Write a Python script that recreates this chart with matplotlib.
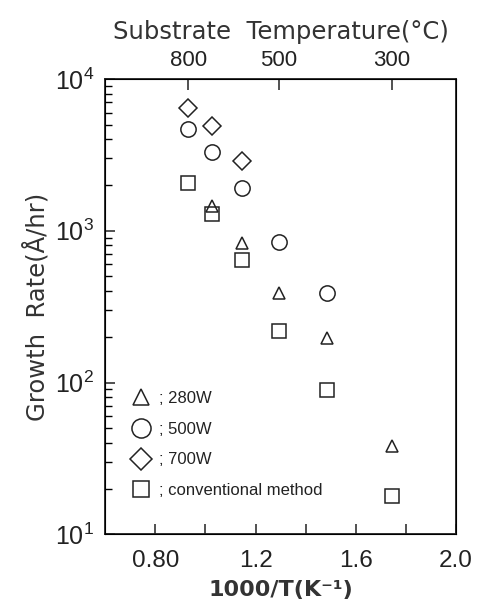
import numpy as np
from matplotlib import pyplot as plt
from matplotlib.ticker import FixedLocator, LogLocator, NullFormatter

plt.rcParams['font.family'] = ['Liberation Sans', 'DejaVu Sans']
plt.rcParams['mathtext.fontset'] = 'custom'
plt.rcParams['mathtext.rm'] = 'Liberation Sans'

#======================================================================================================
# Data
temp_c      = [800, 700, 600, 500, 400, 300]     # substrate temperature, deg C
temp_280w   = [700, 600, 500, 400, 300]
rate_280w   = [1450, 830, 390, 197, 38]
temp_500w   = [800, 700, 600, 500, 400]
rate_500w   = [4680, 3300, 1905, 840, 391]
temp_700w   = [800, 700, 600]
rate_700w   = [6430, 4890, 2870]
temp_conv   = [800, 700, 600, 500, 400, 300]
rate_conv   = [2055, 1283, 646, 219, 89, 17.8]

top_ticks   = [800, 500, 300]
bottom_ticks = [0.8, 1.0, 1.2, 1.4, 1.6, 1.8, 2.0]
bottom_labels = ["0.80", "", "1.2", "", "1.6", "", "2.0"]
#======================================================================================================

def inv_t(t):
    return 1000.0 / (np.asarray(t, dtype=float) + 273.15)

ink = '#222222'

fig = plt.figure(figsize=[4.85, 6.12], dpi=100)
ax = fig.add_axes([0.217, 0.127, 0.723, 0.744])

mk = dict(linestyle='none', markerfacecolor='none', markeredgecolor=ink, markeredgewidth=1.1)
ax.plot(inv_t(temp_280w), rate_280w, marker='^', markersize=9, label='; 280W', **mk)
ax.plot(inv_t(temp_500w), rate_500w, marker='o', markersize=11, label='; 500W', **mk)
ax.plot(inv_t(temp_700w), rate_700w, marker='D', markersize=9, label='; 700W', **mk)
ax.plot(inv_t(temp_conv), rate_conv, marker='s', markersize=9.5, label='; conventional method', **mk)

ax.set_yscale('log')
ax.set_xlim(0.6, 2.0)
ax.set_ylim(10, 1e4)

ax.xaxis.set_major_locator(FixedLocator(bottom_ticks))
ax.set_xticklabels(bottom_labels)
ax.yaxis.set_major_locator(LogLocator(base=10, numticks=5))
ax.yaxis.set_minor_locator(LogLocator(base=10, subs=np.arange(2, 10), numticks=20))
ax.yaxis.set_minor_formatter(NullFormatter())

ax.tick_params(axis='x', which='major', direction='in', length=7, width=1.1, labelsize=17.5,
               colors=ink, pad=11, top=False)
ax.tick_params(axis='y', which='major', direction='in', length=7, width=1.1, labelsize=18,
               colors=ink, pad=8, right=False)
ax.tick_params(axis='y', which='minor', direction='in', length=5, width=1.0, right=False)
for s in ax.spines.values():
    s.set_linewidth(1.3)
    s.set_color(ink)

ax.set_xlabel('1000/T(K⁻¹)', fontsize=16, fontweight='bold',
              family='DejaVu Sans', color='#333333', labelpad=6)
ax.set_ylabel('Growth  Rate(Å/hr)', fontsize=17.5, family='DejaVu Sans', color='#333333',
              labelpad=4)

top = ax.twiny()
top.set_xlim(ax.get_xlim())
top.xaxis.set_major_locator(FixedLocator(inv_t(top_ticks)))
top.set_xticklabels([str(t) for t in top_ticks])
top.tick_params(axis='x', direction='in', length=8, width=1.1, labelsize=16, colors=ink, pad=6)
top.set_xlabel('Substrate  Temperature(°C)', fontsize=17.5, family='DejaVu Sans',
               color='#333333', labelpad=8)

leg = ax.legend(loc='upper left', bbox_to_anchor=(0.06, 0.33), frameon=False, fontsize=12,
                numpoints=1, markerscale=1.25, handlelength=1.0, handletextpad=0.55,
                labelspacing=0.95, borderaxespad=0)
for t in leg.get_texts():
    t.set_color(ink)

fig.savefig('out.png', dpi=100)
